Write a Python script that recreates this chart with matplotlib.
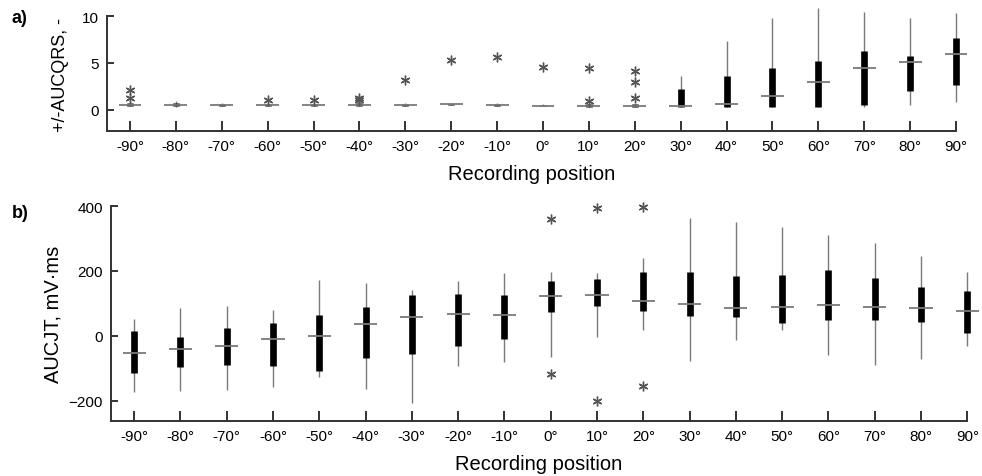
import numpy as np
import matplotlib
matplotlib.use("Agg")
import matplotlib.pyplot as plt

plt.rcParams['font.family'] = ['Liberation Sans', 'DejaVu Sans']

positions = [-90, -80, -70, -60, -50, -40, -30, -20, -10, 0, 10, 20, 30, 40, 50, 60, 70, 80, 90]
tick_labels = [f"{p}°" for p in positions]

# panel a) +/-AUC QRS
qrs_wlo = [0.35, 0.3, 0.35, 0.35, 0.35, 0.35, 0.4, 0.45, 0.4, 0.35, 0.3, 0.3, 0.3, 0.3, 0.3, 0.3, 0.3, 0.45, 0.8]
qrs_q1 = [0.4, 0.35, 0.4, 0.4, 0.4, 0.4, 0.4, 0.45, 0.4, 0.38, 0.3, 0.3, 0.3, 0.3, 0.3, 0.3, 0.53, 1.95, 2.6]
qrs_med = [0.5, 0.5, 0.5, 0.5, 0.5, 0.5, 0.5, 0.55, 0.5, 0.43, 0.4, 0.4, 0.4, 0.57, 1.5, 3.0, 4.4, 5.1, 6.0]
qrs_q3 = [0.75, 0.7, 0.6, 0.6, 0.6, 0.7, 0.6, 0.6, 0.6, 0.5, 0.6, 0.55, 2.25, 3.55, 4.4, 5.2, 6.3, 5.75, 7.65]
qrs_whi = [0.8, 0.9, 0.7, 0.7, 0.7, 0.8, 0.65, 0.6, 0.65, 0.55, 0.65, 0.6, 3.55, 7.3, 9.8, 10.9, 10.5, 9.85, 10.3]
qrs_out = [[2.05, 1.25], [], [], [1.0], [1.05], [1.25, 1.0], [3.15], [5.3], [5.65],
           [4.6], [4.45, 0.9], [4.1, 3.0, 1.2], [], [], [], [], [], [], []]

# panel b) AUC JT, mV*ms
jt_wlo = [-174, -170, -168, -157, -127, -163, -206, -93, -80, -65, -3, 17, -78, -12, 18, -60, -89, -71, -31]
jt_q1 = [-115, -96, -91, -92, -110, -70, -56, -32, -10, 73, 93, 76, 61, 58, 39, 48, 47, 41, 9]
jt_med = [-54, -42, -32, -11, 0, 35, 57, 67, 63, 122, 127, 108, 97, 85, 90, 94, 88, 84, 77]
jt_q3 = [14, -3, 23, 38, 64, 90, 126, 130, 125, 169, 175, 198, 196, 183, 188, 202, 178, 150, 137]
jt_whi = [53, 84, 92, 79, 172, 162, 142, 170, 194, 198, 194, 239, 364, 352, 334, 311, 285, 247, 196]
jt_out = [[], [], [], [], [], [], [], [], [],
          [360, -119], [394, -201], [397, -154], [], [], [], [], [], [], []]

fig = plt.figure(figsize=(9.82, 4.77), dpi=100)
ax1 = fig.add_axes([0.109, 0.7233, 0.8645, 0.2407])
ax2 = fig.add_axes([0.113, 0.1153, 0.872, 0.4507])

gray = "#7a7a7a"


def draw_boxes(ax, wlo, q1, med, q3, whi, out):
    ax.vlines(positions, wlo, whi, color=gray, lw=1.0, clip_on=False, zorder=2)
    ax.vlines(positions, q1, q3, color="black", lw=4.8, clip_on=False, zorder=3)
    ax.hlines(med, np.array(positions) - 2.5, np.array(positions) + 2.5,
              color=gray, lw=1.3, clip_on=False, zorder=4)
    for p, o in zip(positions, out):
        if o:
            ax.plot([p] * len(o), o, ls="none", marker=(6, 2, 0), ms=7, mew=1.0,
                    mec="#555555", clip_on=False, zorder=5)


draw_boxes(ax1, qrs_wlo, qrs_q1, qrs_med, qrs_q3, qrs_whi, qrs_out)
draw_boxes(ax2, jt_wlo, jt_q1, jt_med, jt_q3, jt_whi, jt_out)

for ax in (ax1, ax2):
    ax.set_xlim(-95, 90)
    ax.set_xticks(positions)
    ax.set_xticklabels(tick_labels)
    ax.spines['top'].set_visible(False)
    ax.spines['right'].set_visible(False)
    ax.spines['left'].set_linewidth(1.4)
    ax.spines['bottom'].set_linewidth(1.4)
    ax.spines['left'].set_color("#333333")
    ax.spines['bottom'].set_color("#333333")
    ax.tick_params(axis='x', direction='in', length=7, width=1.4, labelsize=11, pad=6, color="#333333")
    ax.tick_params(axis='y', direction='in', length=5, width=1.4, labelsize=11, pad=6, color="#333333")
    ax.set_xlabel("Recording position", fontsize=14.5, labelpad=8)

ax1.set_ylim(-2.3, 10)
ax1.set_yticks([0, 5, 10])
ax1.set_ylabel("+/-AUCQRS, -", fontsize=13, labelpad=9)

ax2.set_ylim(-263, 400)
ax2.set_yticks([-200, 0, 200, 400])
ax2.set_ylabel("AUCJT, mV·ms", fontsize=14.5, labelpad=4)

fig.text(0.012, 0.962, "a)", fontsize=13, fontweight="bold", va="center")
fig.text(0.012, 0.553, "b)", fontsize=13, fontweight="bold", va="center")

fig.savefig("out.png", dpi=100)
